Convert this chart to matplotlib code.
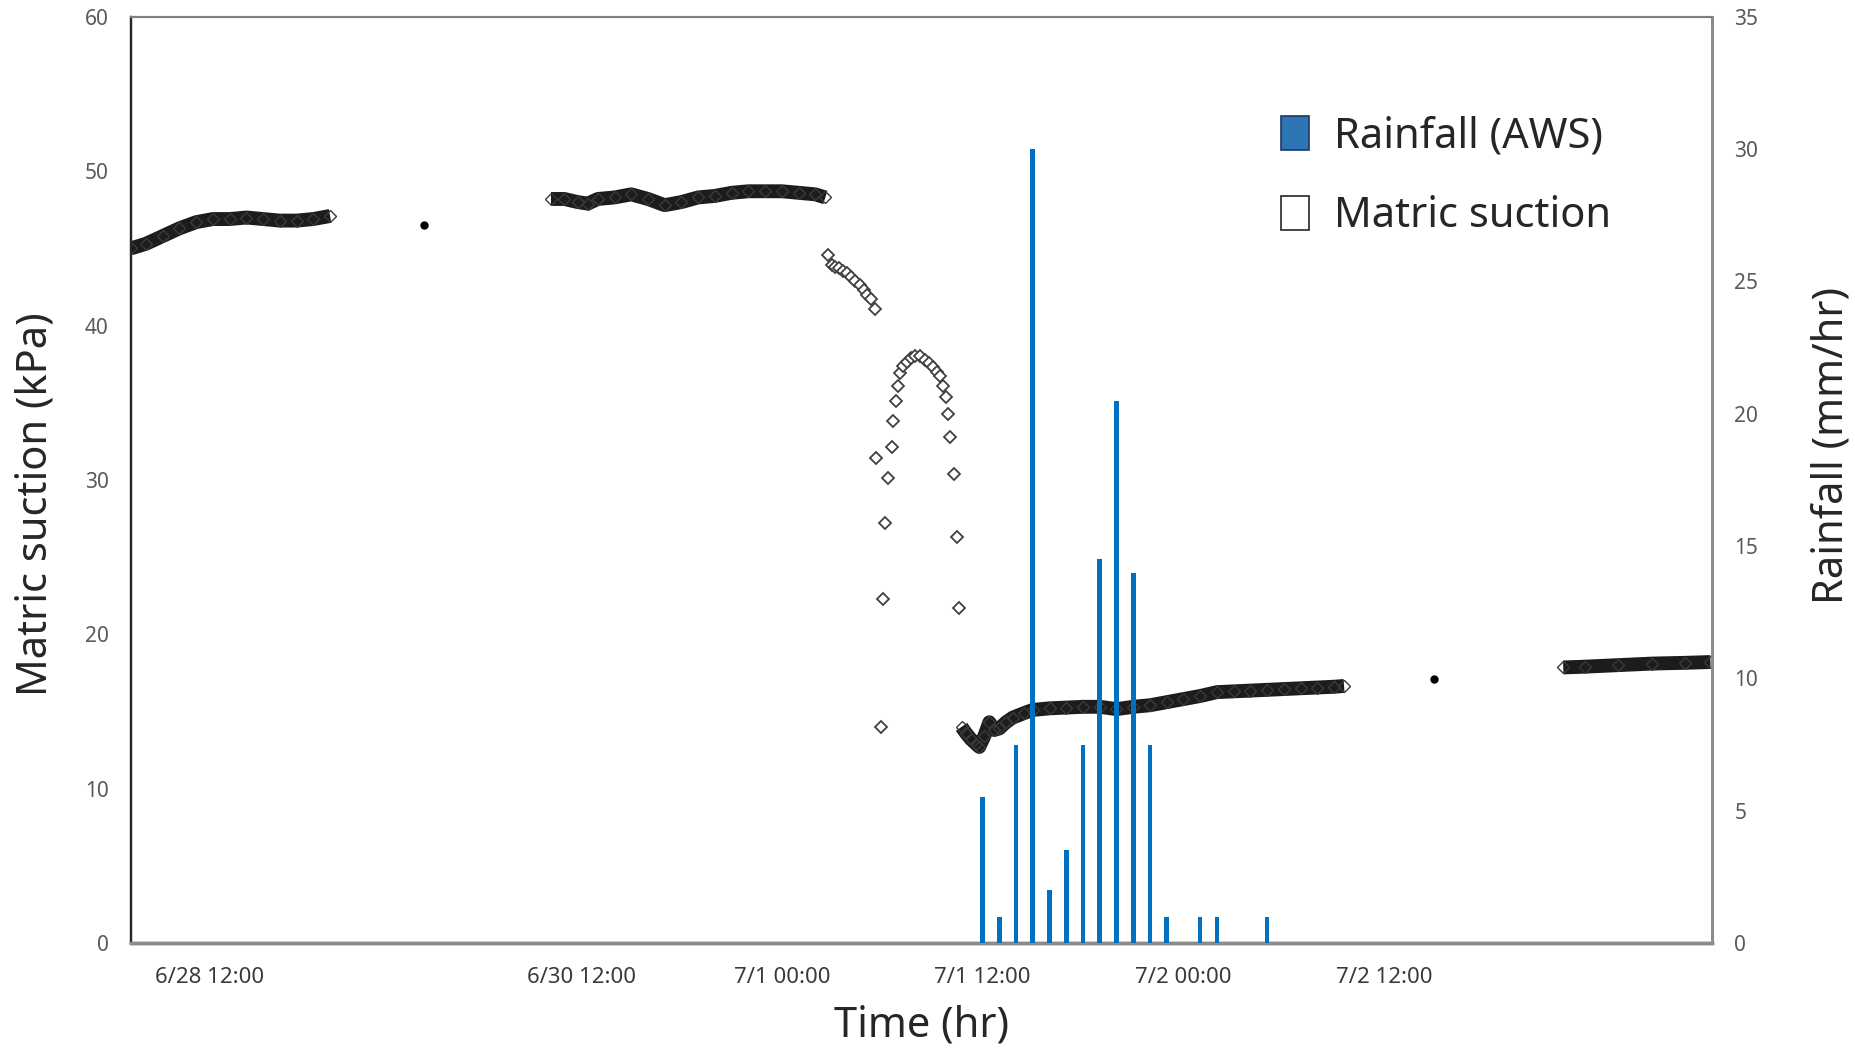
import matplotlib
matplotlib.use("Agg")
import matplotlib.pyplot as plt
from matplotlib.patches import Patch

plt.rcParams["font.family"] = ["Noto Sans", "DejaVu Sans"]

# x = position on the (compressed) time axis, hours from 7/1 00:00
tick_pos = [-34.2, -12.0, 0.0, 12.0, 24.0, 36.0]
tick_lab = ["6/28 12:00", "6/30 12:00", "7/1 00:00", "7/1 12:00", "7/2 00:00", "7/2 12:00"]

# hourly rainfall (AWS), mm/hr
rain_h = [12, 13, 14, 15, 16, 17, 18, 19, 20, 21, 22, 23, 24, 25, 26, 27, 28, 29]
rain_v = [5.5, 1.0, 7.5, 30.0, 2.0, 3.5, 7.5, 14.5, 20.5, 14.0, 7.5, 1.0, 0.0, 1.0, 1.0, 0.0, 0.0, 1.0]

# matric suction, continuous (dense) records
seg1_h = [-38.9, -38.0, -37.0, -36.0, -35.0, -34.0, -33.0, -32.0, -31.0, -30.0, -29.0, -28.0, -27.0]
seg1_v = [45.0, 45.3, 45.8, 46.3, 46.7, 46.9, 46.9, 47.0, 46.9, 46.8, 46.8, 46.9, 47.1]

seg2_h = [-13.8, -13.0, -12.2, -11.6, -11.0, -10.0, -9.0, -8.0, -7.0, -6.0, -5.0,
          -4.0, -3.0, -2.0, -1.0, 0.0, 1.0, 2.0, 2.6]
seg2_v = [48.2, 48.2, 48.0, 47.9, 48.2, 48.3, 48.5, 48.2, 47.8, 48.0, 48.3,
          48.4, 48.6, 48.7, 48.7, 48.7, 48.6, 48.5, 48.3]

seg4_h = [10.74, 11.0, 11.3, 11.6, 11.8, 12.1, 12.4, 12.7, 13.0, 13.4, 13.8, 14.5, 15.0,
          16.0, 17.0, 18.0, 19.0, 20.0, 21.0, 22.0, 23.0, 24.0, 25.0, 26.0, 27.0,
          28.0, 29.0, 30.0, 31.0, 32.0, 33.0, 33.6]
seg4_v = [14.0, 13.6, 13.2, 12.9, 12.7, 13.4, 14.3, 13.8, 13.9, 14.3, 14.6, 14.9, 15.1,
          15.2, 15.25, 15.3, 15.3, 15.15, 15.3, 15.4, 15.6, 15.8, 16.0, 16.25, 16.3,
          16.35, 16.4, 16.45, 16.5, 16.55, 16.6, 16.65]

seg5_h = [46.7, 48.0, 50.0, 52.0, 54.0, 55.5]
seg5_v = [17.85, 17.9, 18.0, 18.1, 18.15, 18.2]

# short clusters during the drop
arc1_h = [2.97, 3.2, 3.4, 3.65, 3.9, 4.15, 4.4, 4.65, 4.9, 5.1, 5.3]
arc1_v = [43.9, 43.8, 43.7, 43.55, 43.4, 43.15, 42.9, 42.6, 42.3, 42.0, 41.7]
arc2_h = [7.05, 7.25, 7.45, 7.7, 7.95, 8.25, 8.55, 8.8, 9.05, 9.25, 9.44, 9.65, 9.84]
arc2_v = [36.9, 37.4, 37.65, 37.9, 38.0, 38.0, 37.8, 37.6, 37.3, 37.0, 36.7, 36.1, 35.4]

# isolated readings
pts_h = [2.76, 5.56, 5.62, 5.92, 6.06, 6.16, 6.32, 6.60, 6.66, 6.80, 6.95,
         9.94, 10.04, 10.30, 10.44, 10.60]
pts_v = [44.6, 41.1, 31.4, 14.0, 22.3, 27.2, 30.1, 32.1, 33.8, 35.1, 36.1,
         34.3, 32.8, 30.4, 26.3, 21.7]

dots_h = [-21.4, 39.0]
dots_v = [46.5, 17.1]

fig = plt.figure(figsize=(18.55, 10.53), dpi=100)
ax = fig.add_axes([0.0706, 0.1045, 0.8524, 0.8795])
ax2 = ax.twinx()

band = dict(color='#1c1c1c', linewidth=10, solid_capstyle='butt',
            marker='D', markersize=6, markerfacecolor='none',
            markeredgecolor='#3a3a3a', markeredgewidth=1.0, zorder=3)
for hh, vv in [(seg1_h, seg1_v), (seg2_h, seg2_v), (seg4_h, seg4_v), (seg5_h, seg5_v)]:
    ax.plot(hh, vv, **band)

dia = dict(linestyle='none', marker='D', markersize=6, markerfacecolor='white',
           markeredgecolor='#404040', markeredgewidth=1.3, zorder=3)
ax.plot(arc1_h, arc1_v, **dia)
ax.plot(arc2_h, arc2_v, **dia)
ax.plot(pts_h, pts_v, **dia)
ax.plot(dots_h, dots_v, 'o', color='black', markersize=5, zorder=3)

ax2.bar(rain_h, rain_v, width=0.28, color='#0070C0', zorder=4)

ax.set_xlim(-38.9, 55.6)
ax.set_ylim(0, 60)
ax2.set_ylim(0, 35)
ax.set_yticks(range(0, 61, 10))
ax2.set_yticks(range(0, 36, 5))
ax.set_xticks(tick_pos)
ax.set_xticklabels(tick_lab)

for a in (ax, ax2):
    a.tick_params(length=0, labelsize=15, labelcolor='#595959', pad=16)
    a.spines['left'].set_color('#262626')
    a.spines['left'].set_linewidth(1.6)
    a.spines['bottom'].set_color('#8c8c8c')
    a.spines['bottom'].set_linewidth(2.5)
    a.spines['top'].set_color('#7f7f7f')
    a.spines['top'].set_linewidth(1.5)
    a.spines['right'].set_color('#8c8c8c')
    a.spines['right'].set_linewidth(2.0)
ax.tick_params(axis='x', labelsize=16, labelcolor='#3a3a3a', pad=17)

ax.set_xlabel('Time (hr)', fontsize=30, color='#262626', labelpad=12)
ax.set_ylabel('Matric suction (kPa)', fontsize=30, color='#262626')
ax.yaxis.set_label_coords(-0.047, 0.474)
ax2.set_ylabel('Rainfall (mm/hr)', fontsize=30, color='#262626')
ax2.yaxis.set_label_coords(1.062, 0.537)

handles = [Patch(facecolor='#2E75B6', edgecolor='#1f3864', linewidth=1.2),
           Patch(facecolor='white', edgecolor='#262626', linewidth=1.2)]
fig.legend(handles, ['Rainfall (AWS)', 'Matric suction'], loc='upper left',
           bbox_to_anchor=(0.6906, 0.890), frameon=False, fontsize=30,
           handlelength=0.68, handleheight=0.88, handletextpad=0.6,
           labelspacing=0.9, borderpad=0, borderaxespad=0, labelcolor='#262626')

fig.savefig('out.png', dpi=100)
